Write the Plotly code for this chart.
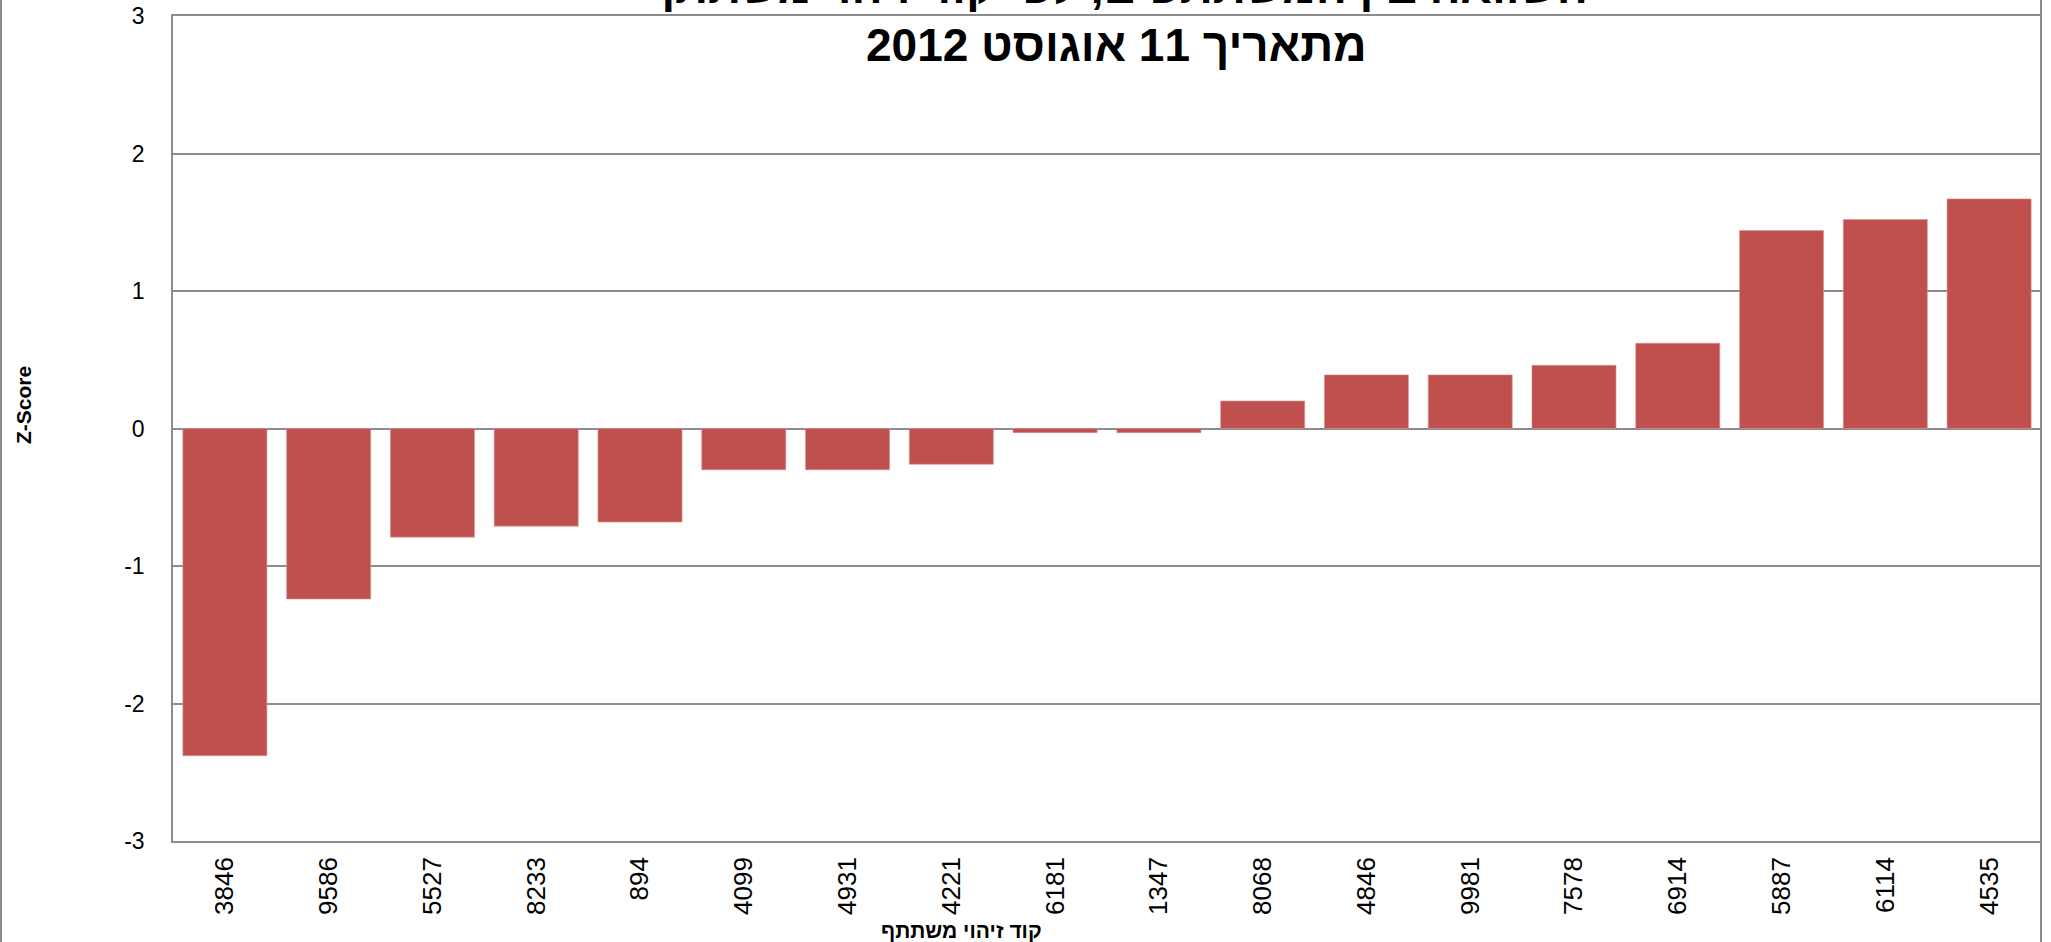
import plotly.graph_objects as go

participants = ["3846", "9586", "5527", "8233", "894", "4099", "4931", "4221", "6181",
                "1347", "8068", "4846", "9981", "7578", "6914", "5887", "6114", "4535"]
z_scores = [-2.38, -1.24, -0.79, -0.71, -0.68, -0.30, -0.30, -0.26, -0.03,
            -0.03, 0.20, 0.39, 0.39, 0.46, 0.62, 1.44, 1.52, 1.67]
y_ticks = [-3, -2, -1, 0, 1, 2, 3]

title_line1 = "השוואה בין המשתתפים, לפי קוד זיהוי משתתף"
title_line2 = "מתאריך 11 אוגוסט 2012"
x_title = "קוד זיהוי משתתף"
y_title = "Z-Score"

W, H = 2051, 942
ML, MR, MT, MB = 173, 10, 16, 101
PW, PH = W - ML - MR, H - MT - MB


def px_x(p):
    return (p - ML) / PW


def px_y(p):
    return (H - MB - p) / PH


fig = go.Figure(
    go.Bar(
        x=participants,
        y=z_scores,
        marker=dict(color="#C0504D", line=dict(color="#D99694", width=0.6)),
    )
)

grid = "#8C8C8C"
fig.update_layout(
    width=W,
    height=H,
    margin=dict(l=ML, r=MR, t=MT, b=MB, autoexpand=False),
    paper_bgcolor="white",
    plot_bgcolor="white",
    bargap=0.19,
    showlegend=False,
    font=dict(family="Liberation Sans, Arial, sans-serif", color="black"),
    xaxis=dict(
        type="category",
        tickangle=-90,
        tickfont=dict(size=26, family="Liberation Sans, Arial"),
        showgrid=False,
        showline=True,
        mirror=True,
        linecolor=grid,
        linewidth=1.5,
        ticks="",
        ticklabelstandoff=4,
        automargin=False,
    ),
    yaxis=dict(
        range=[-3, 3],
        tickvals=y_ticks,
        ticktext=[str(v) for v in y_ticks],
        tickfont=dict(size=23, family="Liberation Sans, Arial"),
        showgrid=True,
        gridcolor=grid,
        gridwidth=1.5,
        zeroline=True,
        zerolinecolor=grid,
        zerolinewidth=1.5,
        showline=True,
        linecolor=grid,
        linewidth=1.5,
        ticks="",
        ticklabelstandoff=22,
        automargin=False,
    ),
    shapes=[
        dict(type="line", xref="paper", yref="paper",
             x0=px_x(1), x1=px_x(1), y0=px_y(H + 5), y1=px_y(-5),
             line=dict(color="#8C8C8C", width=2)),
        dict(type="line", xref="paper", yref="paper",
             x0=px_x(2041), x1=px_x(2041), y0=px_y(H + 5), y1=px_y(-5),
             line=dict(color="#8C8C8C", width=2)),
    ],
    annotations=[
        dict(text=f"<b>{title_line2}</b>", xref="paper", yref="paper",
             x=px_x(1116), y=px_y(45), xanchor="center", yanchor="middle",
             showarrow=False, font=dict(size=46, family="Liberation Sans, Arial", color="black")),
        dict(text=f"<b>{title_line1}</b>", xref="paper", yref="paper",
             x=px_x(1116), y=px_y(-13), xanchor="center", yanchor="middle",
             showarrow=False, font=dict(size=46, family="Liberation Sans, Arial", color="black")),
        dict(text=f"<b>{x_title}</b>", xref="paper", yref="paper",
             x=px_x(961), y=px_y(930), xanchor="center", yanchor="middle",
             showarrow=False, font=dict(size=21, family="Liberation Sans, Arial", color="black")),
        dict(text=f"<b>{y_title}</b>", xref="paper", yref="paper",
             x=px_x(23), y=px_y(405), xanchor="center", yanchor="middle", textangle=-90,
             showarrow=False, font=dict(size=21, family="Liberation Sans Narrow, Liberation Sans, Arial", color="black")),
    ],
)

fig.write_html("out.html")
